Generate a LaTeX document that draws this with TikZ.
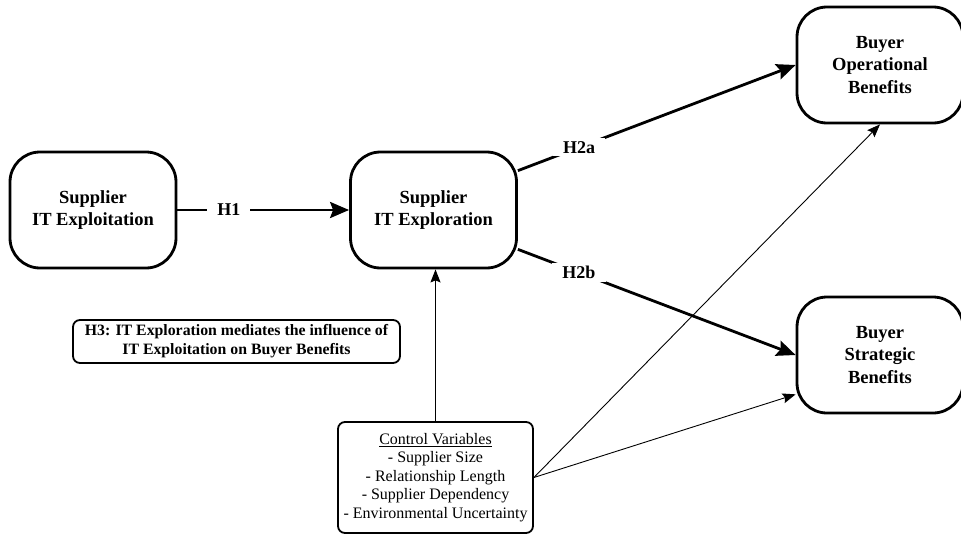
\documentclass[tikz,border=0pt]{standalone}
\usepackage{fontspec}
\setmainfont{Liberation Serif}
\usetikzlibrary{arrows.meta}

\begin{document}
\begin{tikzpicture}
[x=1pt, y=-1pt,
    construct/.style={draw, line width=2.8pt, rounded corners=30pt, align=center,
      minimum width=166pt, minimum height=116pt, inner sep=0pt,
      font=\fontsize{18.5}{22.5}\selectfont\bfseries},
    notebox/.style={draw, line width=1.8pt, rounded corners=7pt, align=center, inner sep=0pt},
    hyp/.style={line width=2.8pt, -{Stealth[length=19pt,width=16pt,inset=3pt]}},
    ctrl/.style={line width=0.9pt, -{Stealth[length=13pt,width=10pt,inset=2pt]}},
    hlabel/.style={fill=white, inner xsep=10pt, inner ysep=3pt,
      font=\fontsize{18}{20}\selectfont\bfseries}]
    \useasboundingbox (0,0) rectangle (961,535);
    % constructs
    \node[construct] (exploit) at (93,210) {Supplier\\IT Exploitation};
    \node[construct] (explore) at (433.5,210) {Supplier\\IT Exploration};
    \node[construct] (oper) at (880,65) {Buyer\\Operational\\Benefits};
    \node[construct] (strat) at (880,355) {Buyer\\Strategic\\Benefits};
    % notes
    \node[notebox, minimum width=327pt, minimum height=43pt,
      font=\fontsize{15.8}{19}\selectfont\bfseries] (h3) at (236.5,341.5)
      {H3: IT Exploration mediates the influence of\\IT Exploitation on Buyer Benefits};
    \node[notebox, minimum width=195pt, minimum height=111pt,
      font=\fontsize{16}{18.5}\selectfont] (control) at (435.5,477.5)
      {\underline{Control Variables}\\- Supplier Size\\- Relationship Length\\- Supplier Dependency\\- Environmental Uncertainty};
    % hypotheses
    \draw[hyp] (exploit) -- node[hlabel, pos=0.3] {H1} (explore);
    \draw[hyp] (explore.25) -- node[hlabel, pos=0.22] {H2a} (oper.west);
    \draw[hyp] (explore.-25) -- node[hlabel, pos=0.22] {H2b} (strat.west);
    % controls
    \draw[ctrl, line width=1.2pt] (control.north) -- (control.north |- explore.south);
    \draw[ctrl] (control.east) -- (oper.south);
    \draw[ctrl] (control.east) -- (strat.205);
\end{tikzpicture}
\end{document}
